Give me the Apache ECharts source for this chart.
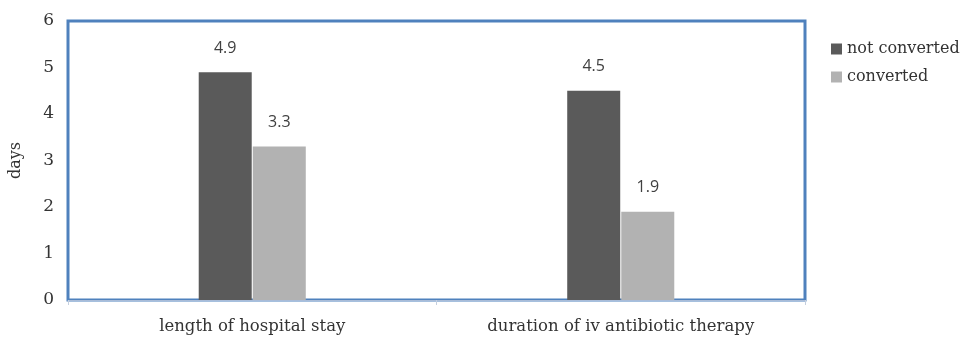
<!DOCTYPE html>
<html>
<head>
<meta charset="utf-8">
<script src="https://cdn.jsdelivr.net/npm/echarts@6/dist/echarts.min.js"></script>
<style>
  html, body { margin: 0; padding: 0; background: #ffffff; }
  #chart { width: 963px; height: 339px; }
</style>
</head>
<body>
<div id="chart"></div>
<script>
// Mean days, by group
const categories = ['length of hospital stay', 'duration of iv antibiotic therapy'];
const notConverted = [4.9, 4.5];
const converted = [3.3, 1.9];
const yTicks = [0, 1, 2, 3, 4, 5, 6];

const serif = '"DejaVu Serif", "Liberation Serif", serif';
const labelStyle = {
  show: true,
  position: 'top',
  distance: 16,
  fontFamily: '"Open Sans", "Liberation Sans", sans-serif',
  fontSize: 16,
  color: '#404040'
};

const chart = echarts.init(document.getElementById('chart'), null, { renderer: 'canvas' });
chart.setOption({
  animation: false,
  backgroundColor: '#ffffff',
  grid: {
    left: 65, top: 21, width: 740, height: 279,
    show: true,
    borderColor: '#4f81bd',
    borderWidth: 3,
    backgroundColor: 'transparent'
  },
  legend: {
    orient: 'vertical',
    left: 826, top: 36,
    itemWidth: 11, itemHeight: 11,
    itemGap: 12,
    icon: 'rect',
    textStyle: { fontFamily: serif, fontSize: 16, color: '#333333' },
    data: ['not converted', 'converted']
  },
  xAxis: {
    type: 'category',
    data: categories,
    offset: 2,
    axisLine: { show: true, lineStyle: { color: '#a9bcd8', width: 1 } },
    axisTick: { show: true, length: 5, lineStyle: { color: '#c4cfdf' } },
    axisLabel: { fontFamily: serif, fontSize: 16.5, color: '#333333', margin: 16 }
  },
  yAxis: {
    type: 'value',
    min: yTicks[0],
    max: yTicks[yTicks.length - 1],
    interval: 1,
    name: 'days',
    nameLocation: 'middle',
    nameGap: 44,
    nameTextStyle: { fontFamily: serif, fontSize: 16, color: '#333333' },
    axisLine: { show: false },
    axisTick: { show: false },
    splitLine: { show: false },
    axisLabel: { fontFamily: serif, fontSize: 17, color: '#333333', margin: 14 }
  },
  series: [
    {
      name: 'not converted',
      type: 'bar',
      data: notConverted,
      barWidth: 53,
      barGap: '2%',
      itemStyle: { color: '#5a5a5a' },
      label: labelStyle
    },
    {
      name: 'converted',
      type: 'bar',
      data: converted,
      barWidth: 53,
      itemStyle: { color: '#b2b2b2' },
      label: labelStyle
    }
  ]
});
</script>
</body>
</html>
